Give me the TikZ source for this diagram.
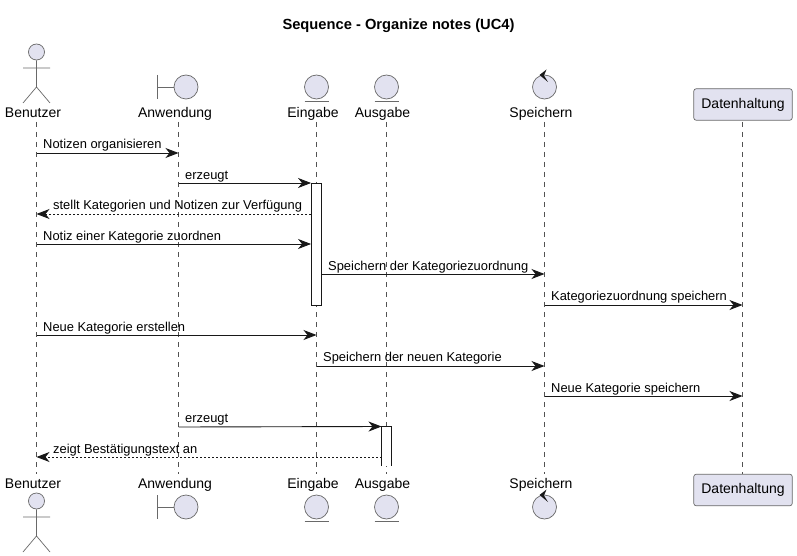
\documentclass[tikz,border=0pt]{standalone}
\usepackage{fontspec}
\setmainfont{Liberation Sans}
\usetikzlibrary{arrows.meta,calc}
\definecolor{partfill}{HTML}{E2E2F0}
\definecolor{ink}{HTML}{181818}
\tikzset{
  x=1pt,y=-1pt,
  lifeline/.style={draw=ink!75,line width=0.6pt,dash pattern=on 5pt off 5pt},
  shapeline/.style={draw=ink!65,line width=0.7pt},
  partshape/.style={shapeline,fill=partfill},
  msg/.style={draw=ink,line width=0.9pt,-{Stealth[length=13pt,width=10pt,inset=4pt]}},
  retmsg/.style={msg,dash pattern=on 2pt off 2pt},
  actbox/.style={draw=ink,line width=0.9pt,fill=white},
  plabel/.style={font=\fontsize{14}{16}\selectfont,anchor=base,inner sep=0pt},
  mlabel/.style={font=\fontsize{12.9}{15}\selectfont,anchor=base west,inner sep=0pt},
  headcircle/.style={partshape,circle,minimum size=24pt,inner sep=0pt},
  dbox/.style={partshape,rounded corners=2.5pt,minimum width=98.5pt,minimum height=31.5pt,inner sep=0pt,font=\fontsize{14}{16}\selectfont},
}
\begin{document}
\begin{tikzpicture}
\useasboundingbox[fill=white] (0,0) rectangle (797,556);
\node[font=\bfseries\fontsize{14.7}{16}\selectfont,inner sep=0pt,anchor=base] (title) at (398.5,30) {Sequence - Organize notes (UC4)};

% lifeline ends
\foreach \n/\xx in {bz/36.5,an/178.5,ei/316.5,au/386.5,sp/544.5,da/742.5}{
  \coordinate (\n T) at (\xx,122);
  \coordinate (\n B) at (\xx,474);
  \draw[lifeline] (\n T) -- (\n B);
}

% activations
\node[actbox,minimum width=10pt,minimum height=122pt,inner sep=0pt,anchor=north] (actE) at (316.5,183) {};
\fill[white] (381.5,426.5) rectangle (391.5,466);
\coordinate (actAnw) at (381.5,466);
\coordinate (actAne) at (381.5,426.5);
\coordinate (actAes) at (391.5,426.5);
\coordinate (actAse) at (391.5,466);
\draw[actbox,fill=none] (actAnw) -- (actAne) -- (actAes) -- (actAse);

% top participants
\node[plabel] (bzt) at (33,117.5) {Benutzer};
\node[plabel] (ant) at (175,117.5) {Anwendung};
\node[plabel] (eit) at (313,117.5) {Eingabe};
\node[plabel] (aut) at (382.5,117.5) {Ausgabe};
\node[plabel] (spt) at (541,117.5) {Speichern};
\node[dbox] (dat) at (743,104.5) {Datenhaltung};
% bottom participants
\node[plabel] (bzb) at (33,488.5) {Benutzer};
\node[plabel] (anb) at (175,488.5) {Anwendung};
\node[plabel] (eib) at (313,488.5) {Eingabe};
\node[plabel] (aub) at (382.5,488.5) {Ausgabe};
\node[plabel] (spb) at (541,488.5) {Speichern};
\node[dbox] (dab) at (743,490) {Datenhaltung};

% actors
\foreach \yo/\tg in {0/t,449/b}{
  \begin{scope}[yshift=-\yo pt]
    \node[partshape,circle,minimum size=16pt,inner sep=0pt] (head\tg) at (36.5,52) {};
    \draw[shapeline] (head\tg.south) -- (36.5,87) -- (23,103) (36.5,87) -- (50,103) (23,68) -- (50,68);
  \end{scope}
}
% icons
\foreach \yo/\tg in {0/t,420/b}{
  \begin{scope}[yshift=-\yo pt]
  \node[headcircle] (bd\tg) at (186,87) {};
  \draw[shapeline] (157.5,75) -- (157.5,99) (157.5,87) -- (bd\tg.west);
  \node[headcircle] (en\tg) at (316.5,87) {};
  \draw[shapeline] (304.5,101) -- (328.5,101);
  \node[headcircle] (ex\tg) at (386.5,87) {};
  \draw[shapeline] (374.5,101) -- (398.5,101);
  \node[headcircle] (ct\tg) at (544.5,87) {};
  \fill[ink] (539.5,75) -- (546.5,69.5) -- (544,75.5) -- (548,82) -- cycle;
  \end{scope}
}

% messages
\draw[msg] (bzT |- 0,153) -- (anT |- 0,153);
\node[mlabel] (m1) at (43,149) {Notizen organisieren};
\draw[msg] (anT |- 0,183) -- (actE.north west);
\node[mlabel] (m2) at (185,179) {erzeugt};
\draw[retmsg] (actE.west |- 0,214) -- (bzT |- 0,214);
\node[mlabel] (m3) at (53,209.5) {stellt Kategorien und Notizen zur Verfügung};
\draw[msg] (bzT |- 0,244) -- (actE.west |- 0,244);
\node[mlabel] (m4) at (43,240) {Notiz einer Kategorie zuordnen};
\draw[msg] (actE.east |- 0,274) -- (spT |- 0,274);
\node[mlabel] (m5) at (328,270) {Speichern der Kategoriezuordnung};
\draw[msg] (spT |- 0,305) -- (daT |- 0,305);
\node[mlabel] (m6) at (551,300.5) {Kategoriezuordnung speichern};
\draw[msg] (bzT |- 0,335) -- (eiT |- 0,335);
\node[mlabel] (m7) at (43,331) {Neue Kategorie erstellen};
\draw[msg] (eiT |- 0,366) -- (spT |- 0,366);
\node[mlabel] (m8) at (323,361.5) {Speichern der neuen Kategorie};
\draw[msg] (spT |- 0,396) -- (daT |- 0,396);
\node[mlabel] (m9) at (551,392) {Neue Kategorie speichern};
\draw[msg] (anT |- 0,427) -- (actAne);
\node[mlabel] (m10) at (185,422.5) {erzeugt};
\draw[retmsg] (actAnw |- 0,457) -- (bzT |- 0,457);
\node[mlabel] (m11) at (53,453) {zeigt Bestätigungstext an};
\end{tikzpicture}
\end{document}
